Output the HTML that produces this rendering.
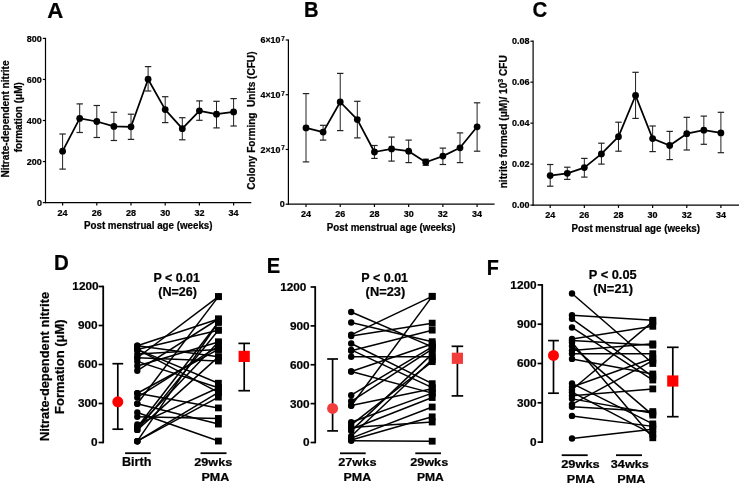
<!DOCTYPE html>
<html><head><meta charset="utf-8"><style>
html,body{margin:0;padding:0;background:#fff;}
svg{display:block;}
text{font-family:"Liberation Sans", sans-serif;fill:#000;stroke:#000;stroke-width:0.22px;}
svg{will-change:transform;}
</style></head><body>
<svg width="740" height="485" viewBox="0 0 740 485">
<rect width="740" height="485" fill="#fff"/>
<text x="47.29" y="17.6" font-size="22" font-weight="bold" textLength="16.06" lengthAdjust="spacingAndGlyphs">A</text>
<text x="303.94" y="16.8" font-size="22" font-weight="bold" textLength="14.56" lengthAdjust="spacingAndGlyphs">B</text>
<text x="532.43" y="16.8" font-size="22" font-weight="bold" textLength="14.77" lengthAdjust="spacingAndGlyphs">C</text>
<line x1="45.5" y1="37.8" x2="45.5" y2="203.2" stroke="#000" stroke-width="1.2"/>
<line x1="44.9" y1="202.6" x2="251.3" y2="202.6" stroke="#000" stroke-width="1.2"/>
<line x1="42.8" y1="202.6" x2="45.5" y2="202.6" stroke="#000" stroke-width="1.2"/>
<text x="41.9" y="205.79" font-size="9" text-anchor="end" font-weight="bold">0</text>
<line x1="42.8" y1="161.55" x2="45.5" y2="161.55" stroke="#000" stroke-width="1.2"/>
<text x="41.9" y="164.75" font-size="9" text-anchor="end" font-weight="bold">200</text>
<line x1="42.8" y1="120.5" x2="45.5" y2="120.5" stroke="#000" stroke-width="1.2"/>
<text x="41.9" y="123.69" font-size="9" text-anchor="end" font-weight="bold">400</text>
<line x1="42.8" y1="79.45" x2="45.5" y2="79.45" stroke="#000" stroke-width="1.2"/>
<text x="41.9" y="82.64" font-size="9" text-anchor="end" font-weight="bold">600</text>
<line x1="42.8" y1="38.4" x2="45.5" y2="38.4" stroke="#000" stroke-width="1.2"/>
<text x="41.9" y="41.6" font-size="9" text-anchor="end" font-weight="bold">800</text>
<line x1="62.6" y1="202.6" x2="62.6" y2="205.4" stroke="#000" stroke-width="1.2"/>
<text x="62.6" y="215.6" font-size="9" text-anchor="middle" font-weight="bold">24</text>
<line x1="96.8" y1="202.6" x2="96.8" y2="205.4" stroke="#000" stroke-width="1.2"/>
<text x="96.8" y="215.6" font-size="9" text-anchor="middle" font-weight="bold">26</text>
<line x1="131" y1="202.6" x2="131" y2="205.4" stroke="#000" stroke-width="1.2"/>
<text x="131" y="215.6" font-size="9" text-anchor="middle" font-weight="bold">28</text>
<line x1="165.2" y1="202.6" x2="165.2" y2="205.4" stroke="#000" stroke-width="1.2"/>
<text x="165.2" y="215.6" font-size="9" text-anchor="middle" font-weight="bold">30</text>
<line x1="199.4" y1="202.6" x2="199.4" y2="205.4" stroke="#000" stroke-width="1.2"/>
<text x="199.4" y="215.6" font-size="9" text-anchor="middle" font-weight="bold">32</text>
<line x1="233.6" y1="202.6" x2="233.6" y2="205.4" stroke="#000" stroke-width="1.2"/>
<text x="233.6" y="215.6" font-size="9" text-anchor="middle" font-weight="bold">34</text>
<line x1="62.6" y1="134" x2="62.6" y2="169.1" stroke="#222" stroke-width="1"/>
<line x1="59.4" y1="134" x2="65.8" y2="134" stroke="#222" stroke-width="1.2"/>
<line x1="59.4" y1="169.1" x2="65.8" y2="169.1" stroke="#222" stroke-width="1.2"/>
<line x1="79.7" y1="103.9" x2="79.7" y2="132.5" stroke="#222" stroke-width="1"/>
<line x1="76.5" y1="103.9" x2="82.9" y2="103.9" stroke="#222" stroke-width="1.2"/>
<line x1="76.5" y1="132.5" x2="82.9" y2="132.5" stroke="#222" stroke-width="1.2"/>
<line x1="96.8" y1="105.5" x2="96.8" y2="137.5" stroke="#222" stroke-width="1"/>
<line x1="93.6" y1="105.5" x2="100" y2="105.5" stroke="#222" stroke-width="1.2"/>
<line x1="93.6" y1="137.5" x2="100" y2="137.5" stroke="#222" stroke-width="1.2"/>
<line x1="113.9" y1="112.3" x2="113.9" y2="140.5" stroke="#222" stroke-width="1"/>
<line x1="110.7" y1="112.3" x2="117.1" y2="112.3" stroke="#222" stroke-width="1.2"/>
<line x1="110.7" y1="140.5" x2="117.1" y2="140.5" stroke="#222" stroke-width="1.2"/>
<line x1="131" y1="114.2" x2="131" y2="139.4" stroke="#222" stroke-width="1"/>
<line x1="127.8" y1="114.2" x2="134.2" y2="114.2" stroke="#222" stroke-width="1.2"/>
<line x1="127.8" y1="139.4" x2="134.2" y2="139.4" stroke="#222" stroke-width="1.2"/>
<line x1="148.1" y1="66.6" x2="148.1" y2="91" stroke="#222" stroke-width="1"/>
<line x1="144.9" y1="66.6" x2="151.3" y2="66.6" stroke="#222" stroke-width="1.2"/>
<line x1="144.9" y1="91" x2="151.3" y2="91" stroke="#222" stroke-width="1.2"/>
<line x1="165.2" y1="96.7" x2="165.2" y2="122.6" stroke="#222" stroke-width="1"/>
<line x1="162" y1="96.7" x2="168.4" y2="96.7" stroke="#222" stroke-width="1.2"/>
<line x1="162" y1="122.6" x2="168.4" y2="122.6" stroke="#222" stroke-width="1.2"/>
<line x1="182.3" y1="117.7" x2="182.3" y2="139.8" stroke="#222" stroke-width="1"/>
<line x1="179.1" y1="117.7" x2="185.5" y2="117.7" stroke="#222" stroke-width="1.2"/>
<line x1="179.1" y1="139.8" x2="185.5" y2="139.8" stroke="#222" stroke-width="1.2"/>
<line x1="199.4" y1="100.9" x2="199.4" y2="120.3" stroke="#222" stroke-width="1"/>
<line x1="196.2" y1="100.9" x2="202.6" y2="100.9" stroke="#222" stroke-width="1.2"/>
<line x1="196.2" y1="120.3" x2="202.6" y2="120.3" stroke="#222" stroke-width="1.2"/>
<line x1="216.5" y1="101.3" x2="216.5" y2="127.9" stroke="#222" stroke-width="1"/>
<line x1="213.3" y1="101.3" x2="219.7" y2="101.3" stroke="#222" stroke-width="1.2"/>
<line x1="213.3" y1="127.9" x2="219.7" y2="127.9" stroke="#222" stroke-width="1.2"/>
<line x1="233.6" y1="98.6" x2="233.6" y2="126" stroke="#222" stroke-width="1"/>
<line x1="230.4" y1="98.6" x2="236.8" y2="98.6" stroke="#222" stroke-width="1.2"/>
<line x1="230.4" y1="126" x2="236.8" y2="126" stroke="#222" stroke-width="1.2"/>
<polyline fill="none" stroke="#000" stroke-width="1.75" stroke-linejoin="round" points="62.6,151.2 79.7,118.4 96.8,121.5 113.9,126.4 131,126.8 148.1,79.2 165.2,109.6 182.3,128.7 199.4,110.8 216.5,114.2 233.6,111.9"/>
<circle cx="62.6" cy="151.2" r="3.4" fill="#000"/>
<circle cx="79.7" cy="118.4" r="3.4" fill="#000"/>
<circle cx="96.8" cy="121.5" r="3.4" fill="#000"/>
<circle cx="113.9" cy="126.4" r="3.4" fill="#000"/>
<circle cx="131" cy="126.8" r="3.4" fill="#000"/>
<circle cx="148.1" cy="79.2" r="3.4" fill="#000"/>
<circle cx="165.2" cy="109.6" r="3.4" fill="#000"/>
<circle cx="182.3" cy="128.7" r="3.4" fill="#000"/>
<circle cx="199.4" cy="110.8" r="3.4" fill="#000"/>
<circle cx="216.5" cy="114.2" r="3.4" fill="#000"/>
<circle cx="233.6" cy="111.9" r="3.4" fill="#000"/>
<text x="84.02" y="229.3" font-size="10" font-weight="bold" textLength="128.49" lengthAdjust="spacingAndGlyphs">Post menstrual age (weeks)</text>
<text x="8.9" y="177.61" font-size="10.1" font-weight="bold" textLength="117.23" lengthAdjust="spacingAndGlyphs" transform="rotate(-90 8.9 177.61)">Nitrate-dependent nitrite</text>
<text x="22.2" y="152.2" font-size="10.1" font-weight="bold" textLength="70.05" lengthAdjust="spacingAndGlyphs" transform="rotate(-90 22.2 152.2)">formation (μM)</text>
<line x1="288.4" y1="39.4" x2="288.4" y2="204.8" stroke="#000" stroke-width="1.2"/>
<line x1="287.8" y1="204.2" x2="494.6" y2="204.2" stroke="#000" stroke-width="1.2"/>
<line x1="285.7" y1="204.2" x2="288.4" y2="204.2" stroke="#000" stroke-width="1.2"/>
<text x="284.8" y="207.39" font-size="9" text-anchor="end" font-weight="bold">0</text>
<line x1="285.7" y1="149.47" x2="288.4" y2="149.47" stroke="#000" stroke-width="1.2"/>
<text x="284.8" y="152.63" font-size="8.9" font-weight="bold" text-anchor="end">2×10<tspan font-size="6.3" dx="0.8" dy="-2.3">7</tspan></text>
<line x1="285.7" y1="94.73" x2="288.4" y2="94.73" stroke="#000" stroke-width="1.2"/>
<text x="284.8" y="97.89" font-size="8.9" font-weight="bold" text-anchor="end">4×10<tspan font-size="6.3" dx="0.8" dy="-2.3">7</tspan></text>
<line x1="285.7" y1="40" x2="288.4" y2="40" stroke="#000" stroke-width="1.2"/>
<text x="284.8" y="43.16" font-size="8.9" font-weight="bold" text-anchor="end">6×10<tspan font-size="6.3" dx="0.8" dy="-2.3">7</tspan></text>
<line x1="306" y1="204.2" x2="306" y2="207" stroke="#000" stroke-width="1.2"/>
<text x="306" y="216.8" font-size="9" text-anchor="middle" font-weight="bold">24</text>
<line x1="340.22" y1="204.2" x2="340.22" y2="207" stroke="#000" stroke-width="1.2"/>
<text x="340.22" y="216.8" font-size="9" text-anchor="middle" font-weight="bold">26</text>
<line x1="374.44" y1="204.2" x2="374.44" y2="207" stroke="#000" stroke-width="1.2"/>
<text x="374.44" y="216.8" font-size="9" text-anchor="middle" font-weight="bold">28</text>
<line x1="408.66" y1="204.2" x2="408.66" y2="207" stroke="#000" stroke-width="1.2"/>
<text x="408.66" y="216.8" font-size="9" text-anchor="middle" font-weight="bold">30</text>
<line x1="442.88" y1="204.2" x2="442.88" y2="207" stroke="#000" stroke-width="1.2"/>
<text x="442.88" y="216.8" font-size="9" text-anchor="middle" font-weight="bold">32</text>
<line x1="477.1" y1="204.2" x2="477.1" y2="207" stroke="#000" stroke-width="1.2"/>
<text x="477.1" y="216.8" font-size="9" text-anchor="middle" font-weight="bold">34</text>
<line x1="306" y1="93.6" x2="306" y2="161.9" stroke="#222" stroke-width="1"/>
<line x1="302.8" y1="93.6" x2="309.2" y2="93.6" stroke="#222" stroke-width="1.2"/>
<line x1="302.8" y1="161.9" x2="309.2" y2="161.9" stroke="#222" stroke-width="1.2"/>
<line x1="323.11" y1="125.3" x2="323.11" y2="140.1" stroke="#222" stroke-width="1"/>
<line x1="319.91" y1="125.3" x2="326.31" y2="125.3" stroke="#222" stroke-width="1.2"/>
<line x1="319.91" y1="140.1" x2="326.31" y2="140.1" stroke="#222" stroke-width="1.2"/>
<line x1="340.22" y1="73.4" x2="340.22" y2="130.6" stroke="#222" stroke-width="1"/>
<line x1="337.02" y1="73.4" x2="343.42" y2="73.4" stroke="#222" stroke-width="1.2"/>
<line x1="337.02" y1="130.6" x2="343.42" y2="130.6" stroke="#222" stroke-width="1.2"/>
<line x1="357.33" y1="101.3" x2="357.33" y2="137.9" stroke="#222" stroke-width="1"/>
<line x1="354.13" y1="101.3" x2="360.53" y2="101.3" stroke="#222" stroke-width="1.2"/>
<line x1="354.13" y1="137.9" x2="360.53" y2="137.9" stroke="#222" stroke-width="1.2"/>
<line x1="374.44" y1="145.5" x2="374.44" y2="158.4" stroke="#222" stroke-width="1"/>
<line x1="371.24" y1="145.5" x2="377.64" y2="145.5" stroke="#222" stroke-width="1.2"/>
<line x1="371.24" y1="158.4" x2="377.64" y2="158.4" stroke="#222" stroke-width="1.2"/>
<line x1="391.55" y1="137.1" x2="391.55" y2="161.1" stroke="#222" stroke-width="1"/>
<line x1="388.35" y1="137.1" x2="394.75" y2="137.1" stroke="#222" stroke-width="1.2"/>
<line x1="388.35" y1="161.1" x2="394.75" y2="161.1" stroke="#222" stroke-width="1.2"/>
<line x1="408.66" y1="140.1" x2="408.66" y2="162.6" stroke="#222" stroke-width="1"/>
<line x1="405.46" y1="140.1" x2="411.86" y2="140.1" stroke="#222" stroke-width="1.2"/>
<line x1="405.46" y1="162.6" x2="411.86" y2="162.6" stroke="#222" stroke-width="1.2"/>
<line x1="425.77" y1="159.2" x2="425.77" y2="165.3" stroke="#222" stroke-width="1"/>
<line x1="422.57" y1="159.2" x2="428.97" y2="159.2" stroke="#222" stroke-width="1.2"/>
<line x1="422.57" y1="165.3" x2="428.97" y2="165.3" stroke="#222" stroke-width="1.2"/>
<line x1="442.88" y1="148.1" x2="442.88" y2="164.5" stroke="#222" stroke-width="1"/>
<line x1="439.68" y1="148.1" x2="446.08" y2="148.1" stroke="#222" stroke-width="1.2"/>
<line x1="439.68" y1="164.5" x2="446.08" y2="164.5" stroke="#222" stroke-width="1.2"/>
<line x1="459.99" y1="132.9" x2="459.99" y2="162.6" stroke="#222" stroke-width="1"/>
<line x1="456.79" y1="132.9" x2="463.19" y2="132.9" stroke="#222" stroke-width="1.2"/>
<line x1="456.79" y1="162.6" x2="463.19" y2="162.6" stroke="#222" stroke-width="1.2"/>
<line x1="477.1" y1="102.8" x2="477.1" y2="151.2" stroke="#222" stroke-width="1"/>
<line x1="473.9" y1="102.8" x2="480.3" y2="102.8" stroke="#222" stroke-width="1.2"/>
<line x1="473.9" y1="151.2" x2="480.3" y2="151.2" stroke="#222" stroke-width="1.2"/>
<polyline fill="none" stroke="#000" stroke-width="1.75" stroke-linejoin="round" points="306,127.9 323.11,132.1 340.22,102 357.33,119.6 374.44,152 391.55,148.9 408.66,151.2 425.77,162.2 442.88,156.1 459.99,147.8 477.1,126.8"/>
<circle cx="306" cy="127.9" r="3.4" fill="#000"/>
<circle cx="323.11" cy="132.1" r="3.4" fill="#000"/>
<circle cx="340.22" cy="102" r="3.4" fill="#000"/>
<circle cx="357.33" cy="119.6" r="3.4" fill="#000"/>
<circle cx="374.44" cy="152" r="3.4" fill="#000"/>
<circle cx="391.55" cy="148.9" r="3.4" fill="#000"/>
<circle cx="408.66" cy="151.2" r="3.4" fill="#000"/>
<circle cx="425.77" cy="162.2" r="3.4" fill="#000"/>
<circle cx="442.88" cy="156.1" r="3.4" fill="#000"/>
<circle cx="459.99" cy="147.8" r="3.4" fill="#000"/>
<circle cx="477.1" cy="126.8" r="3.4" fill="#000"/>
<text x="326.82" y="230.6" font-size="10" font-weight="bold" textLength="128.59" lengthAdjust="spacingAndGlyphs">Post menstrual age (weeks)</text>
<text x="255.2" y="189.75" font-size="10.3" font-weight="bold" textLength="138.27" lengthAdjust="spacingAndGlyphs" transform="rotate(-90 255.2 189.75)">Colony Forming  Units (CFU)</text>
<line x1="533.1" y1="40.6" x2="533.1" y2="205.7" stroke="#000" stroke-width="1.2"/>
<line x1="532.5" y1="205.1" x2="739" y2="205.1" stroke="#000" stroke-width="1.2"/>
<line x1="530.4" y1="205.1" x2="533.1" y2="205.1" stroke="#000" stroke-width="1.2"/>
<text x="529.5" y="208.29" font-size="9" text-anchor="end" font-weight="bold">0.00</text>
<line x1="530.4" y1="164.12" x2="533.1" y2="164.12" stroke="#000" stroke-width="1.2"/>
<text x="529.5" y="167.32" font-size="9" text-anchor="end" font-weight="bold">0.02</text>
<line x1="530.4" y1="123.15" x2="533.1" y2="123.15" stroke="#000" stroke-width="1.2"/>
<text x="529.5" y="126.34" font-size="9" text-anchor="end" font-weight="bold">0.04</text>
<line x1="530.4" y1="82.18" x2="533.1" y2="82.18" stroke="#000" stroke-width="1.2"/>
<text x="529.5" y="85.37" font-size="9" text-anchor="end" font-weight="bold">0.06</text>
<line x1="530.4" y1="41.2" x2="533.1" y2="41.2" stroke="#000" stroke-width="1.2"/>
<text x="529.5" y="44.4" font-size="9" text-anchor="end" font-weight="bold">0.08</text>
<line x1="550.2" y1="205.1" x2="550.2" y2="207.9" stroke="#000" stroke-width="1.2"/>
<text x="550.2" y="217.5" font-size="9" text-anchor="middle" font-weight="bold">24</text>
<line x1="584.34" y1="205.1" x2="584.34" y2="207.9" stroke="#000" stroke-width="1.2"/>
<text x="584.34" y="217.5" font-size="9" text-anchor="middle" font-weight="bold">26</text>
<line x1="618.48" y1="205.1" x2="618.48" y2="207.9" stroke="#000" stroke-width="1.2"/>
<text x="618.48" y="217.5" font-size="9" text-anchor="middle" font-weight="bold">28</text>
<line x1="652.62" y1="205.1" x2="652.62" y2="207.9" stroke="#000" stroke-width="1.2"/>
<text x="652.62" y="217.5" font-size="9" text-anchor="middle" font-weight="bold">30</text>
<line x1="686.76" y1="205.1" x2="686.76" y2="207.9" stroke="#000" stroke-width="1.2"/>
<text x="686.76" y="217.5" font-size="9" text-anchor="middle" font-weight="bold">32</text>
<line x1="720.9" y1="205.1" x2="720.9" y2="207.9" stroke="#000" stroke-width="1.2"/>
<text x="720.9" y="217.5" font-size="9" text-anchor="middle" font-weight="bold">34</text>
<line x1="550.2" y1="164.5" x2="550.2" y2="186.2" stroke="#222" stroke-width="1"/>
<line x1="547" y1="164.5" x2="553.4" y2="164.5" stroke="#222" stroke-width="1.2"/>
<line x1="547" y1="186.2" x2="553.4" y2="186.2" stroke="#222" stroke-width="1.2"/>
<line x1="567.27" y1="167.2" x2="567.27" y2="179.4" stroke="#222" stroke-width="1"/>
<line x1="564.07" y1="167.2" x2="570.47" y2="167.2" stroke="#222" stroke-width="1.2"/>
<line x1="564.07" y1="179.4" x2="570.47" y2="179.4" stroke="#222" stroke-width="1.2"/>
<line x1="584.34" y1="158.4" x2="584.34" y2="177.1" stroke="#222" stroke-width="1"/>
<line x1="581.14" y1="158.4" x2="587.54" y2="158.4" stroke="#222" stroke-width="1.2"/>
<line x1="581.14" y1="177.1" x2="587.54" y2="177.1" stroke="#222" stroke-width="1.2"/>
<line x1="601.41" y1="143.2" x2="601.41" y2="164.1" stroke="#222" stroke-width="1"/>
<line x1="598.21" y1="143.2" x2="604.61" y2="143.2" stroke="#222" stroke-width="1.2"/>
<line x1="598.21" y1="164.1" x2="604.61" y2="164.1" stroke="#222" stroke-width="1.2"/>
<line x1="618.48" y1="122.2" x2="618.48" y2="151.2" stroke="#222" stroke-width="1"/>
<line x1="615.28" y1="122.2" x2="621.68" y2="122.2" stroke="#222" stroke-width="1.2"/>
<line x1="615.28" y1="151.2" x2="621.68" y2="151.2" stroke="#222" stroke-width="1.2"/>
<line x1="635.55" y1="72.3" x2="635.55" y2="118.4" stroke="#222" stroke-width="1"/>
<line x1="632.35" y1="72.3" x2="638.75" y2="72.3" stroke="#222" stroke-width="1.2"/>
<line x1="632.35" y1="118.4" x2="638.75" y2="118.4" stroke="#222" stroke-width="1.2"/>
<line x1="652.62" y1="126" x2="652.62" y2="151.6" stroke="#222" stroke-width="1"/>
<line x1="649.42" y1="126" x2="655.82" y2="126" stroke="#222" stroke-width="1.2"/>
<line x1="649.42" y1="151.6" x2="655.82" y2="151.6" stroke="#222" stroke-width="1.2"/>
<line x1="669.69" y1="131.4" x2="669.69" y2="159.6" stroke="#222" stroke-width="1"/>
<line x1="666.49" y1="131.4" x2="672.89" y2="131.4" stroke="#222" stroke-width="1.2"/>
<line x1="666.49" y1="159.6" x2="672.89" y2="159.6" stroke="#222" stroke-width="1.2"/>
<line x1="686.76" y1="117.3" x2="686.76" y2="150" stroke="#222" stroke-width="1"/>
<line x1="683.56" y1="117.3" x2="689.96" y2="117.3" stroke="#222" stroke-width="1.2"/>
<line x1="683.56" y1="150" x2="689.96" y2="150" stroke="#222" stroke-width="1.2"/>
<line x1="703.83" y1="116.1" x2="703.83" y2="144.3" stroke="#222" stroke-width="1"/>
<line x1="700.63" y1="116.1" x2="707.03" y2="116.1" stroke="#222" stroke-width="1.2"/>
<line x1="700.63" y1="144.3" x2="707.03" y2="144.3" stroke="#222" stroke-width="1.2"/>
<line x1="720.9" y1="112.3" x2="720.9" y2="152.7" stroke="#222" stroke-width="1"/>
<line x1="717.7" y1="112.3" x2="724.1" y2="112.3" stroke="#222" stroke-width="1.2"/>
<line x1="717.7" y1="152.7" x2="724.1" y2="152.7" stroke="#222" stroke-width="1.2"/>
<polyline fill="none" stroke="#000" stroke-width="1.75" stroke-linejoin="round" points="550.2,175.6 567.27,173.3 584.34,167.6 601.41,153.9 618.48,136.7 635.55,95.5 652.62,138.6 669.69,145.5 686.76,133.7 703.83,130.2 720.9,132.9"/>
<circle cx="550.2" cy="175.6" r="3.4" fill="#000"/>
<circle cx="567.27" cy="173.3" r="3.4" fill="#000"/>
<circle cx="584.34" cy="167.6" r="3.4" fill="#000"/>
<circle cx="601.41" cy="153.9" r="3.4" fill="#000"/>
<circle cx="618.48" cy="136.7" r="3.4" fill="#000"/>
<circle cx="635.55" cy="95.5" r="3.4" fill="#000"/>
<circle cx="652.62" cy="138.6" r="3.4" fill="#000"/>
<circle cx="669.69" cy="145.5" r="3.4" fill="#000"/>
<circle cx="686.76" cy="133.7" r="3.4" fill="#000"/>
<circle cx="703.83" cy="130.2" r="3.4" fill="#000"/>
<circle cx="720.9" cy="132.9" r="3.4" fill="#000"/>
<text x="571.52" y="232.2" font-size="10" font-weight="bold" textLength="128.49" lengthAdjust="spacingAndGlyphs">Post menstrual age (weeks)</text>
<text x="507.5" y="188.3" font-size="10" font-weight="bold" transform="rotate(-90 507.5 188.3)" textLength="133" lengthAdjust="spacingAndGlyphs">nitrite formed (μM)/ 10<tspan font-size="7" dy="-4.2">3</tspan><tspan dy="4.2"> CFU</tspan></text>
<text x="53.92" y="269.6" font-size="22" font-weight="bold" textLength="14.8" lengthAdjust="spacingAndGlyphs">D</text>
<line x1="103.2" y1="285.7" x2="103.2" y2="443.3" stroke="#000" stroke-width="1.8"/>
<line x1="98.6" y1="442.5" x2="103.2" y2="442.5" stroke="#000" stroke-width="1.7"/>
<text x="97.6" y="446.4" font-size="11.8" text-anchor="end" font-weight="bold">0</text>
<line x1="98.6" y1="403.5" x2="103.2" y2="403.5" stroke="#000" stroke-width="1.7"/>
<text x="97.6" y="407.4" font-size="11.8" text-anchor="end" font-weight="bold">300</text>
<line x1="98.6" y1="364.5" x2="103.2" y2="364.5" stroke="#000" stroke-width="1.7"/>
<text x="97.6" y="368.4" font-size="11.8" text-anchor="end" font-weight="bold">600</text>
<line x1="98.6" y1="325.5" x2="103.2" y2="325.5" stroke="#000" stroke-width="1.7"/>
<text x="97.6" y="329.4" font-size="11.8" text-anchor="end" font-weight="bold">900</text>
<line x1="98.6" y1="286.5" x2="103.2" y2="286.5" stroke="#000" stroke-width="1.7"/>
<text x="98.6" y="290.4" font-size="11.8" text-anchor="end" font-weight="bold">1200</text>
<line x1="137.3" y1="345.78" x2="218.4" y2="319" stroke="#000" stroke-width="1.5"/>
<line x1="137.3" y1="345.78" x2="218.4" y2="356.83" stroke="#000" stroke-width="1.5"/>
<line x1="137.3" y1="349.42" x2="218.4" y2="392.45" stroke="#000" stroke-width="1.5"/>
<line x1="137.3" y1="349.42" x2="218.4" y2="330.18" stroke="#000" stroke-width="1.5"/>
<line x1="137.3" y1="349.42" x2="218.4" y2="383.22" stroke="#000" stroke-width="1.5"/>
<line x1="137.3" y1="353.97" x2="218.4" y2="349.42" stroke="#000" stroke-width="1.5"/>
<line x1="137.3" y1="357.74" x2="218.4" y2="296.64" stroke="#000" stroke-width="1.5"/>
<line x1="137.3" y1="357.74" x2="218.4" y2="360.99" stroke="#000" stroke-width="1.5"/>
<line x1="137.3" y1="361.38" x2="218.4" y2="387.77" stroke="#000" stroke-width="1.5"/>
<line x1="137.3" y1="366.06" x2="218.4" y2="342.01" stroke="#000" stroke-width="1.5"/>
<line x1="137.3" y1="370.74" x2="218.4" y2="319" stroke="#000" stroke-width="1.5"/>
<line x1="137.3" y1="393.23" x2="218.4" y2="407.92" stroke="#000" stroke-width="1.5"/>
<line x1="137.3" y1="393.23" x2="218.4" y2="349.42" stroke="#000" stroke-width="1.5"/>
<line x1="137.3" y1="397.39" x2="218.4" y2="346.04" stroke="#000" stroke-width="1.5"/>
<line x1="137.3" y1="403.76" x2="218.4" y2="296.64" stroke="#000" stroke-width="1.5"/>
<line x1="137.3" y1="403.76" x2="218.4" y2="424.04" stroke="#000" stroke-width="1.5"/>
<line x1="137.3" y1="412.47" x2="218.4" y2="441.07" stroke="#000" stroke-width="1.5"/>
<line x1="137.3" y1="416.76" x2="218.4" y2="418.45" stroke="#000" stroke-width="1.5"/>
<line x1="137.3" y1="424.56" x2="218.4" y2="387.77" stroke="#000" stroke-width="1.5"/>
<line x1="137.3" y1="427.29" x2="218.4" y2="322.25" stroke="#000" stroke-width="1.5"/>
<line x1="137.3" y1="427.29" x2="218.4" y2="342.01" stroke="#000" stroke-width="1.5"/>
<line x1="137.3" y1="429.89" x2="218.4" y2="330.18" stroke="#000" stroke-width="1.5"/>
<line x1="137.3" y1="429.89" x2="218.4" y2="356.83" stroke="#000" stroke-width="1.5"/>
<line x1="137.3" y1="441.2" x2="218.4" y2="392.45" stroke="#000" stroke-width="1.5"/>
<line x1="137.3" y1="441.2" x2="218.4" y2="322.25" stroke="#000" stroke-width="1.5"/>
<line x1="137.3" y1="441.2" x2="218.4" y2="397.13" stroke="#000" stroke-width="1.5"/>
<circle cx="137.3" cy="345.78" r="3.2" fill="#000"/>
<rect x="215" y="315.6" width="6.8" height="6.8" fill="#000"/>
<circle cx="137.3" cy="345.78" r="3.2" fill="#000"/>
<rect x="215" y="353.43" width="6.8" height="6.8" fill="#000"/>
<circle cx="137.3" cy="349.42" r="3.2" fill="#000"/>
<rect x="215" y="389.05" width="6.8" height="6.8" fill="#000"/>
<circle cx="137.3" cy="349.42" r="3.2" fill="#000"/>
<rect x="215" y="326.78" width="6.8" height="6.8" fill="#000"/>
<circle cx="137.3" cy="349.42" r="3.2" fill="#000"/>
<rect x="215" y="379.82" width="6.8" height="6.8" fill="#000"/>
<circle cx="137.3" cy="353.97" r="3.2" fill="#000"/>
<rect x="215" y="346.02" width="6.8" height="6.8" fill="#000"/>
<circle cx="137.3" cy="357.74" r="3.2" fill="#000"/>
<rect x="215" y="293.24" width="6.8" height="6.8" fill="#000"/>
<circle cx="137.3" cy="357.74" r="3.2" fill="#000"/>
<rect x="215" y="357.59" width="6.8" height="6.8" fill="#000"/>
<circle cx="137.3" cy="361.38" r="3.2" fill="#000"/>
<rect x="215" y="384.37" width="6.8" height="6.8" fill="#000"/>
<circle cx="137.3" cy="366.06" r="3.2" fill="#000"/>
<rect x="215" y="338.61" width="6.8" height="6.8" fill="#000"/>
<circle cx="137.3" cy="370.74" r="3.2" fill="#000"/>
<rect x="215" y="315.6" width="6.8" height="6.8" fill="#000"/>
<circle cx="137.3" cy="393.23" r="3.2" fill="#000"/>
<rect x="215" y="404.52" width="6.8" height="6.8" fill="#000"/>
<circle cx="137.3" cy="393.23" r="3.2" fill="#000"/>
<rect x="215" y="346.02" width="6.8" height="6.8" fill="#000"/>
<circle cx="137.3" cy="397.39" r="3.2" fill="#000"/>
<rect x="215" y="342.64" width="6.8" height="6.8" fill="#000"/>
<circle cx="137.3" cy="403.76" r="3.2" fill="#000"/>
<rect x="215" y="293.24" width="6.8" height="6.8" fill="#000"/>
<circle cx="137.3" cy="403.76" r="3.2" fill="#000"/>
<rect x="215" y="420.64" width="6.8" height="6.8" fill="#000"/>
<circle cx="137.3" cy="412.47" r="3.2" fill="#000"/>
<rect x="215" y="437.67" width="6.8" height="6.8" fill="#000"/>
<circle cx="137.3" cy="416.76" r="3.2" fill="#000"/>
<rect x="215" y="415.05" width="6.8" height="6.8" fill="#000"/>
<circle cx="137.3" cy="424.56" r="3.2" fill="#000"/>
<rect x="215" y="384.37" width="6.8" height="6.8" fill="#000"/>
<circle cx="137.3" cy="427.29" r="3.2" fill="#000"/>
<rect x="215" y="318.85" width="6.8" height="6.8" fill="#000"/>
<circle cx="137.3" cy="427.29" r="3.2" fill="#000"/>
<rect x="215" y="338.61" width="6.8" height="6.8" fill="#000"/>
<circle cx="137.3" cy="429.89" r="3.2" fill="#000"/>
<rect x="215" y="326.78" width="6.8" height="6.8" fill="#000"/>
<circle cx="137.3" cy="429.89" r="3.2" fill="#000"/>
<rect x="215" y="353.43" width="6.8" height="6.8" fill="#000"/>
<circle cx="137.3" cy="441.2" r="3.2" fill="#000"/>
<rect x="215" y="389.05" width="6.8" height="6.8" fill="#000"/>
<circle cx="137.3" cy="441.2" r="3.2" fill="#000"/>
<rect x="215" y="318.85" width="6.8" height="6.8" fill="#000"/>
<circle cx="137.3" cy="441.2" r="3.2" fill="#000"/>
<rect x="215" y="393.73" width="6.8" height="6.8" fill="#000"/>
<line x1="117.8" y1="363.7" x2="117.8" y2="429.2" stroke="#000" stroke-width="1.7"/>
<line x1="112.4" y1="363.7" x2="123.2" y2="363.7" stroke="#000" stroke-width="1.7"/>
<line x1="112.4" y1="429.2" x2="123.2" y2="429.2" stroke="#000" stroke-width="1.7"/>
<circle cx="117.8" cy="401.8" r="5.5" fill="#ff0000"/>
<line x1="244.2" y1="343.4" x2="244.2" y2="390.7" stroke="#000" stroke-width="1.7"/>
<line x1="238.4" y1="343.4" x2="250" y2="343.4" stroke="#000" stroke-width="1.7"/>
<line x1="238.4" y1="390.7" x2="250" y2="390.7" stroke="#000" stroke-width="1.7"/>
<rect x="238.6" y="350.8" width="11.2" height="11.2" fill="#ff0000"/>
<line x1="125.1" y1="453.2" x2="150.7" y2="453.2" stroke="#000" stroke-width="1.8"/>
<line x1="200.5" y1="453.2" x2="226.5" y2="453.2" stroke="#000" stroke-width="1.8"/>
<text x="121.93" y="465.8" font-size="12" font-weight="bold" textLength="29.41" lengthAdjust="spacingAndGlyphs">Birth</text>
<text x="194.31" y="465.6" font-size="11.8" font-weight="bold" textLength="37.88" lengthAdjust="spacingAndGlyphs">29wks</text>
<text x="201.44" y="480.7" font-size="11.8" font-weight="bold" textLength="27.86" lengthAdjust="spacingAndGlyphs">PMA</text>
<text x="153.44" y="281.5" font-size="12.6" font-weight="bold" textLength="46.42" lengthAdjust="spacingAndGlyphs">P &lt; 0.01</text>
<text x="158.22" y="296.3" font-size="12.6" font-weight="bold" textLength="38.75" lengthAdjust="spacingAndGlyphs">(N=26)</text>
<text x="48.6" y="441.09" font-size="13" font-weight="bold" textLength="149.21" lengthAdjust="spacingAndGlyphs" transform="rotate(-90 48.6 441.09)">Nitrate-dependent nitrite</text>
<text x="64.5" y="413.89" font-size="13" font-weight="bold" textLength="94.46" lengthAdjust="spacingAndGlyphs" transform="rotate(-90 64.5 413.89)">Formation (μM)</text>
<text x="266.84" y="272.9" font-size="22" font-weight="bold" textLength="13.46" lengthAdjust="spacingAndGlyphs">E</text>
<line x1="315.2" y1="286.2" x2="315.2" y2="443.3" stroke="#000" stroke-width="1.8"/>
<line x1="310.6" y1="442.5" x2="315.2" y2="442.5" stroke="#000" stroke-width="1.7"/>
<text x="309.6" y="446.4" font-size="11.8" text-anchor="end" font-weight="bold">0</text>
<line x1="310.6" y1="403.62" x2="315.2" y2="403.62" stroke="#000" stroke-width="1.7"/>
<text x="309.6" y="407.52" font-size="11.8" text-anchor="end" font-weight="bold">300</text>
<line x1="310.6" y1="364.75" x2="315.2" y2="364.75" stroke="#000" stroke-width="1.7"/>
<text x="309.6" y="368.65" font-size="11.8" text-anchor="end" font-weight="bold">600</text>
<line x1="310.6" y1="325.88" x2="315.2" y2="325.88" stroke="#000" stroke-width="1.7"/>
<text x="309.6" y="329.77" font-size="11.8" text-anchor="end" font-weight="bold">900</text>
<line x1="310.6" y1="287" x2="315.2" y2="287" stroke="#000" stroke-width="1.7"/>
<text x="306.4" y="290.9" font-size="11.8" text-anchor="end" font-weight="bold">1200</text>
<line x1="351.2" y1="312.01" x2="432.2" y2="346.87" stroke="#000" stroke-width="1.5"/>
<line x1="351.2" y1="322.51" x2="432.2" y2="341.68" stroke="#000" stroke-width="1.5"/>
<line x1="351.2" y1="334.82" x2="432.2" y2="296.33" stroke="#000" stroke-width="1.5"/>
<line x1="351.2" y1="336.11" x2="432.2" y2="323.15" stroke="#000" stroke-width="1.5"/>
<line x1="351.2" y1="343.5" x2="432.2" y2="383.67" stroke="#000" stroke-width="1.5"/>
<line x1="351.2" y1="349.85" x2="432.2" y2="387.56" stroke="#000" stroke-width="1.5"/>
<line x1="351.2" y1="350.75" x2="432.2" y2="330.15" stroke="#000" stroke-width="1.5"/>
<line x1="351.2" y1="356.72" x2="432.2" y2="356.72" stroke="#000" stroke-width="1.5"/>
<line x1="351.2" y1="371.49" x2="432.2" y2="344.02" stroke="#000" stroke-width="1.5"/>
<line x1="351.2" y1="371.49" x2="432.2" y2="393.13" stroke="#000" stroke-width="1.5"/>
<line x1="351.2" y1="395.2" x2="432.2" y2="346.87" stroke="#000" stroke-width="1.5"/>
<line x1="351.2" y1="401.29" x2="432.2" y2="349.2" stroke="#000" stroke-width="1.5"/>
<line x1="351.2" y1="405.44" x2="432.2" y2="388.85" stroke="#000" stroke-width="1.5"/>
<line x1="351.2" y1="405.7" x2="432.2" y2="296.33" stroke="#000" stroke-width="1.5"/>
<line x1="351.2" y1="422.29" x2="432.2" y2="393.13" stroke="#000" stroke-width="1.5"/>
<line x1="351.2" y1="424.88" x2="432.2" y2="361.64" stroke="#000" stroke-width="1.5"/>
<line x1="351.2" y1="427.47" x2="432.2" y2="422.03" stroke="#000" stroke-width="1.5"/>
<line x1="351.2" y1="429.28" x2="432.2" y2="397.53" stroke="#000" stroke-width="1.5"/>
<line x1="351.2" y1="430.84" x2="432.2" y2="353.87" stroke="#000" stroke-width="1.5"/>
<line x1="351.2" y1="436.28" x2="432.2" y2="359.57" stroke="#000" stroke-width="1.5"/>
<line x1="351.2" y1="438.09" x2="432.2" y2="406.99" stroke="#000" stroke-width="1.5"/>
<line x1="351.2" y1="439.91" x2="432.2" y2="416.84" stroke="#000" stroke-width="1.5"/>
<line x1="351.2" y1="440.69" x2="432.2" y2="441.2" stroke="#000" stroke-width="1.5"/>
<circle cx="351.2" cy="312.01" r="3.2" fill="#000"/>
<rect x="428.8" y="343.47" width="6.8" height="6.8" fill="#000"/>
<circle cx="351.2" cy="322.51" r="3.2" fill="#000"/>
<rect x="428.8" y="338.28" width="6.8" height="6.8" fill="#000"/>
<circle cx="351.2" cy="334.82" r="3.2" fill="#000"/>
<rect x="428.8" y="292.93" width="6.8" height="6.8" fill="#000"/>
<circle cx="351.2" cy="336.11" r="3.2" fill="#000"/>
<rect x="428.8" y="319.75" width="6.8" height="6.8" fill="#000"/>
<circle cx="351.2" cy="343.5" r="3.2" fill="#000"/>
<rect x="428.8" y="380.27" width="6.8" height="6.8" fill="#000"/>
<circle cx="351.2" cy="349.85" r="3.2" fill="#000"/>
<rect x="428.8" y="384.16" width="6.8" height="6.8" fill="#000"/>
<circle cx="351.2" cy="350.75" r="3.2" fill="#000"/>
<rect x="428.8" y="326.75" width="6.8" height="6.8" fill="#000"/>
<circle cx="351.2" cy="356.72" r="3.2" fill="#000"/>
<rect x="428.8" y="353.32" width="6.8" height="6.8" fill="#000"/>
<circle cx="351.2" cy="371.49" r="3.2" fill="#000"/>
<rect x="428.8" y="340.62" width="6.8" height="6.8" fill="#000"/>
<circle cx="351.2" cy="371.49" r="3.2" fill="#000"/>
<rect x="428.8" y="389.73" width="6.8" height="6.8" fill="#000"/>
<circle cx="351.2" cy="395.2" r="3.2" fill="#000"/>
<rect x="428.8" y="343.47" width="6.8" height="6.8" fill="#000"/>
<circle cx="351.2" cy="401.29" r="3.2" fill="#000"/>
<rect x="428.8" y="345.8" width="6.8" height="6.8" fill="#000"/>
<circle cx="351.2" cy="405.44" r="3.2" fill="#000"/>
<rect x="428.8" y="385.45" width="6.8" height="6.8" fill="#000"/>
<circle cx="351.2" cy="405.7" r="3.2" fill="#000"/>
<rect x="428.8" y="292.93" width="6.8" height="6.8" fill="#000"/>
<circle cx="351.2" cy="422.29" r="3.2" fill="#000"/>
<rect x="428.8" y="389.73" width="6.8" height="6.8" fill="#000"/>
<circle cx="351.2" cy="424.88" r="3.2" fill="#000"/>
<rect x="428.8" y="358.24" width="6.8" height="6.8" fill="#000"/>
<circle cx="351.2" cy="427.47" r="3.2" fill="#000"/>
<rect x="428.8" y="418.63" width="6.8" height="6.8" fill="#000"/>
<circle cx="351.2" cy="429.28" r="3.2" fill="#000"/>
<rect x="428.8" y="394.13" width="6.8" height="6.8" fill="#000"/>
<circle cx="351.2" cy="430.84" r="3.2" fill="#000"/>
<rect x="428.8" y="350.47" width="6.8" height="6.8" fill="#000"/>
<circle cx="351.2" cy="436.28" r="3.2" fill="#000"/>
<rect x="428.8" y="356.17" width="6.8" height="6.8" fill="#000"/>
<circle cx="351.2" cy="438.09" r="3.2" fill="#000"/>
<rect x="428.8" y="403.59" width="6.8" height="6.8" fill="#000"/>
<circle cx="351.2" cy="439.91" r="3.2" fill="#000"/>
<rect x="428.8" y="413.44" width="6.8" height="6.8" fill="#000"/>
<circle cx="351.2" cy="440.69" r="3.2" fill="#000"/>
<rect x="428.8" y="437.8" width="6.8" height="6.8" fill="#000"/>
<line x1="332.6" y1="359" x2="332.6" y2="430.9" stroke="#000" stroke-width="1.7"/>
<line x1="327.2" y1="359" x2="338" y2="359" stroke="#000" stroke-width="1.7"/>
<line x1="327.2" y1="430.9" x2="338" y2="430.9" stroke="#000" stroke-width="1.7"/>
<circle cx="332.6" cy="408.4" r="5.5" fill="#f33d3d"/>
<line x1="457.4" y1="346.3" x2="457.4" y2="395.9" stroke="#000" stroke-width="1.7"/>
<line x1="451.6" y1="346.3" x2="463.2" y2="346.3" stroke="#000" stroke-width="1.7"/>
<line x1="451.6" y1="395.9" x2="463.2" y2="395.9" stroke="#000" stroke-width="1.7"/>
<rect x="451.8" y="352.7" width="11.2" height="11.2" fill="#f33d3d"/>
<line x1="340" y1="453.3" x2="365.7" y2="453.3" stroke="#000" stroke-width="1.8"/>
<line x1="415.3" y1="453.3" x2="441" y2="453.3" stroke="#000" stroke-width="1.8"/>
<text x="338.2" y="465.6" font-size="11.8" font-weight="bold" textLength="38.29" lengthAdjust="spacingAndGlyphs">27wks</text>
<text x="343.54" y="480.9" font-size="11.8" font-weight="bold" textLength="27.65" lengthAdjust="spacingAndGlyphs">PMA</text>
<text x="410.21" y="465.6" font-size="11.8" font-weight="bold" textLength="37.98" lengthAdjust="spacingAndGlyphs">29wks</text>
<text x="416.96" y="480.9" font-size="11.8" font-weight="bold" textLength="26.92" lengthAdjust="spacingAndGlyphs">PMA</text>
<text x="361.34" y="281.5" font-size="12.6" font-weight="bold" textLength="46.72" lengthAdjust="spacingAndGlyphs">P &lt; 0.01</text>
<text x="365.61" y="296.3" font-size="12.6" font-weight="bold" textLength="39.58" lengthAdjust="spacingAndGlyphs">(N=23)</text>
<text x="486.76" y="275.4" font-size="22" font-weight="bold" textLength="12.1" lengthAdjust="spacingAndGlyphs">F</text>
<line x1="542.2" y1="284.1" x2="542.2" y2="442.9" stroke="#000" stroke-width="1.8"/>
<line x1="537.6" y1="442.1" x2="542.2" y2="442.1" stroke="#000" stroke-width="1.7"/>
<text x="536.6" y="446" font-size="11.8" text-anchor="end" font-weight="bold">0</text>
<line x1="537.6" y1="402.8" x2="542.2" y2="402.8" stroke="#000" stroke-width="1.7"/>
<text x="536.6" y="406.7" font-size="11.8" text-anchor="end" font-weight="bold">300</text>
<line x1="537.6" y1="363.5" x2="542.2" y2="363.5" stroke="#000" stroke-width="1.7"/>
<text x="536.6" y="367.4" font-size="11.8" text-anchor="end" font-weight="bold">600</text>
<line x1="537.6" y1="324.2" x2="542.2" y2="324.2" stroke="#000" stroke-width="1.7"/>
<text x="536.6" y="328.1" font-size="11.8" text-anchor="end" font-weight="bold">900</text>
<line x1="537.6" y1="284.9" x2="542.2" y2="284.9" stroke="#000" stroke-width="1.7"/>
<text x="536.6" y="288.8" font-size="11.8" text-anchor="end" font-weight="bold">1200</text>
<line x1="572" y1="293.55" x2="652.8" y2="363.5" stroke="#000" stroke-width="1.5"/>
<line x1="572" y1="315.29" x2="652.8" y2="320.27" stroke="#000" stroke-width="1.5"/>
<line x1="572" y1="318.83" x2="652.8" y2="376.6" stroke="#000" stroke-width="1.5"/>
<line x1="572" y1="327.48" x2="652.8" y2="380.01" stroke="#000" stroke-width="1.5"/>
<line x1="572" y1="339" x2="652.8" y2="326.3" stroke="#000" stroke-width="1.5"/>
<line x1="572" y1="340.57" x2="652.8" y2="345.16" stroke="#000" stroke-width="1.5"/>
<line x1="572" y1="342.54" x2="652.8" y2="437.78" stroke="#000" stroke-width="1.5"/>
<line x1="572" y1="346.08" x2="652.8" y2="415.11" stroke="#000" stroke-width="1.5"/>
<line x1="572" y1="350.4" x2="652.8" y2="343.85" stroke="#000" stroke-width="1.5"/>
<line x1="572" y1="353.68" x2="652.8" y2="353.68" stroke="#000" stroke-width="1.5"/>
<line x1="572" y1="358.92" x2="652.8" y2="373.98" stroke="#000" stroke-width="1.5"/>
<line x1="572" y1="383.41" x2="652.8" y2="423.89" stroke="#000" stroke-width="1.5"/>
<line x1="572" y1="386.95" x2="652.8" y2="358.26" stroke="#000" stroke-width="1.5"/>
<line x1="572" y1="389.7" x2="652.8" y2="321.58" stroke="#000" stroke-width="1.5"/>
<line x1="572" y1="392.19" x2="652.8" y2="434.37" stroke="#000" stroke-width="1.5"/>
<line x1="572" y1="395.73" x2="652.8" y2="388.91" stroke="#000" stroke-width="1.5"/>
<line x1="572" y1="398.87" x2="652.8" y2="413.28" stroke="#000" stroke-width="1.5"/>
<line x1="572" y1="404.37" x2="652.8" y2="360.62" stroke="#000" stroke-width="1.5"/>
<line x1="572" y1="406.73" x2="652.8" y2="411.58" stroke="#000" stroke-width="1.5"/>
<line x1="572" y1="415.9" x2="652.8" y2="426.38" stroke="#000" stroke-width="1.5"/>
<line x1="572" y1="438.43" x2="652.8" y2="429.26" stroke="#000" stroke-width="1.5"/>
<circle cx="572" cy="293.55" r="3.2" fill="#000"/>
<rect x="649.4" y="360.1" width="6.8" height="6.8" fill="#000"/>
<circle cx="572" cy="315.29" r="3.2" fill="#000"/>
<rect x="649.4" y="316.87" width="6.8" height="6.8" fill="#000"/>
<circle cx="572" cy="318.83" r="3.2" fill="#000"/>
<rect x="649.4" y="373.2" width="6.8" height="6.8" fill="#000"/>
<circle cx="572" cy="327.48" r="3.2" fill="#000"/>
<rect x="649.4" y="376.61" width="6.8" height="6.8" fill="#000"/>
<circle cx="572" cy="339" r="3.2" fill="#000"/>
<rect x="649.4" y="322.9" width="6.8" height="6.8" fill="#000"/>
<circle cx="572" cy="340.57" r="3.2" fill="#000"/>
<rect x="649.4" y="341.76" width="6.8" height="6.8" fill="#000"/>
<circle cx="572" cy="342.54" r="3.2" fill="#000"/>
<rect x="649.4" y="434.38" width="6.8" height="6.8" fill="#000"/>
<circle cx="572" cy="346.08" r="3.2" fill="#000"/>
<rect x="649.4" y="411.71" width="6.8" height="6.8" fill="#000"/>
<circle cx="572" cy="350.4" r="3.2" fill="#000"/>
<rect x="649.4" y="340.45" width="6.8" height="6.8" fill="#000"/>
<circle cx="572" cy="353.68" r="3.2" fill="#000"/>
<rect x="649.4" y="350.28" width="6.8" height="6.8" fill="#000"/>
<circle cx="572" cy="358.92" r="3.2" fill="#000"/>
<rect x="649.4" y="370.58" width="6.8" height="6.8" fill="#000"/>
<circle cx="572" cy="383.41" r="3.2" fill="#000"/>
<rect x="649.4" y="420.49" width="6.8" height="6.8" fill="#000"/>
<circle cx="572" cy="386.95" r="3.2" fill="#000"/>
<rect x="649.4" y="354.86" width="6.8" height="6.8" fill="#000"/>
<circle cx="572" cy="389.7" r="3.2" fill="#000"/>
<rect x="649.4" y="318.18" width="6.8" height="6.8" fill="#000"/>
<circle cx="572" cy="392.19" r="3.2" fill="#000"/>
<rect x="649.4" y="430.97" width="6.8" height="6.8" fill="#000"/>
<circle cx="572" cy="395.73" r="3.2" fill="#000"/>
<rect x="649.4" y="385.51" width="6.8" height="6.8" fill="#000"/>
<circle cx="572" cy="398.87" r="3.2" fill="#000"/>
<rect x="649.4" y="409.88" width="6.8" height="6.8" fill="#000"/>
<circle cx="572" cy="404.37" r="3.2" fill="#000"/>
<rect x="649.4" y="357.22" width="6.8" height="6.8" fill="#000"/>
<circle cx="572" cy="406.73" r="3.2" fill="#000"/>
<rect x="649.4" y="408.18" width="6.8" height="6.8" fill="#000"/>
<circle cx="572" cy="415.9" r="3.2" fill="#000"/>
<rect x="649.4" y="422.98" width="6.8" height="6.8" fill="#000"/>
<circle cx="572" cy="438.43" r="3.2" fill="#000"/>
<rect x="649.4" y="425.86" width="6.8" height="6.8" fill="#000"/>
<line x1="553.5" y1="340.6" x2="553.5" y2="393.2" stroke="#000" stroke-width="1.7"/>
<line x1="548.1" y1="340.6" x2="558.9" y2="340.6" stroke="#000" stroke-width="1.7"/>
<line x1="548.1" y1="393.2" x2="558.9" y2="393.2" stroke="#000" stroke-width="1.7"/>
<circle cx="553.5" cy="355.4" r="5.5" fill="#ff0000"/>
<line x1="672.8" y1="347.3" x2="672.8" y2="416.7" stroke="#000" stroke-width="1.7"/>
<line x1="667" y1="347.3" x2="678.6" y2="347.3" stroke="#000" stroke-width="1.7"/>
<line x1="667" y1="416.7" x2="678.6" y2="416.7" stroke="#000" stroke-width="1.7"/>
<rect x="667.2" y="375.4" width="11.2" height="11.2" fill="#ff0000"/>
<line x1="561.7" y1="455.2" x2="587.7" y2="455.2" stroke="#000" stroke-width="1.8"/>
<line x1="616" y1="455.2" x2="642" y2="455.2" stroke="#000" stroke-width="1.8"/>
<text x="561.2" y="468" font-size="11.8" font-weight="bold" textLength="38.49" lengthAdjust="spacingAndGlyphs">29wks</text>
<text x="566.84" y="482.7" font-size="11.8" font-weight="bold" textLength="27.86" lengthAdjust="spacingAndGlyphs">PMA</text>
<text x="610.83" y="468" font-size="11.8" font-weight="bold" textLength="37.95" lengthAdjust="spacingAndGlyphs">34wks</text>
<text x="617.33" y="482.7" font-size="11.8" font-weight="bold" textLength="27.96" lengthAdjust="spacingAndGlyphs">PMA</text>
<text x="588.82" y="278.5" font-size="12.6" font-weight="bold" textLength="47.85" lengthAdjust="spacingAndGlyphs">P &lt; 0.05</text>
<text x="593.31" y="293.3" font-size="12.6" font-weight="bold" textLength="39.68" lengthAdjust="spacingAndGlyphs">(N=21)</text>
</svg></body></html>
